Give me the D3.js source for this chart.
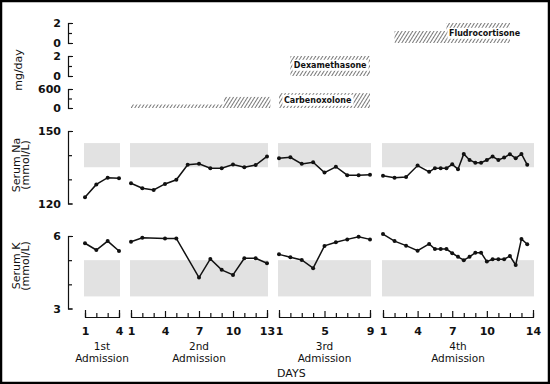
<!DOCTYPE html>
<html>
<head>
<meta charset="utf-8">
<script src="https://cdn.jsdelivr.net/npm/d3@7"></script>
<style>
body { margin: 0; background: #fff; }
text { font-family: "DejaVu Sans", sans-serif; fill: #111; }
.num text { font-weight: bold; font-size: 11px; }
.axis path, .axis line { stroke: #111; stroke-width: 1.2; }
</style>
</head>
<body>
<div id="chart"></div>
<script>
// Data ------------------------------------------------------------------------------------------------------
const admissionNames = ["1st", "2nd", "3rd", "4th"];
const admissionLengths = [4, 13, 9, 14];
const dayLabels = [[1, 4], [1, 4, 7, 10, 13], [1, 5, 9], [1, 4, 7, 10, 14]];

const halfDays4 = [1, 2, 3, 4, 5, 5.5, 6, 6.5, 7, 7.5, 8, 8.5, 9, 9.5, 10, 10.5, 11, 11.5, 12, 12.5, 13, 13.5];

const naDays = [
  [1, 2, 3, 4],
  [1, 2, 3, 4, 5, 6, 7, 8, 9, 10, 11, 12, 13],
  [1, 2, 3, 4, 5, 6, 7, 8, 9],
  halfDays4
];
const naValues = [
  [122.6, 127.9, 130.7, 130.4],
  [128.4, 126.3, 125.6, 128.1, 129.8, 136, 136.4, 134.6, 134.6, 136.1, 135, 135.9, 139.5],
  [138.7, 139.1, 136.4, 137.1, 132.8, 135.2, 131.7, 131.7, 131.9],
  [131.5, 130.7, 131, 135.7, 133.1, 134.6, 134.6, 134.6, 136.2, 134.2, 140.5, 138, 136.9, 136.9, 138, 139.4, 138, 139, 140.4, 138.7, 140.5, 136]
];

const kDays = [
  [1, 2, 3, 4],
  [1, 2, 4, 5, 7, 8, 9, 10, 11, 12, 13],
  [1, 2, 3, 4, 5, 6, 7, 8, 9],
  halfDays4
];
const kValues = [
  [5.7, 5.42, 5.79, 5.38],
  [5.76, 5.93, 5.9, 5.9, 4.28, 5.05, 4.6, 4.39, 5.08, 5.08, 4.87],
  [5.24, 5.12, 5.01, 4.67, 5.59, 5.74, 5.86, 5.97, 5.86],
  [6.08, 5.79, 5.6, 5.39, 5.67, 5.46, 5.46, 5.46, 5.29, 5.14, 5.0, 5.14, 5.31, 5.31, 4.94, 5.04, 5.04, 5.04, 5.17, 4.8, 5.88, 5.66]
];

const naNormal = [135, 145];
const kNormal = [3.5, 5];

// drug doses: [admission, from day, to day, mg/day]
const drugNames = ["Fludrocortisone", "Dexamethasone", "Carbenoxolone"];
const drugMax = [2, 2, 600];
const fludroDoses = [[3, 2, 6.5, 1.2], [3, 6.5, 12, 2]];
const dexaDoses = [[2, 2, 9, 2]];
const carbDoses = [[1, 1, 9.2, 110], [1, 9.2, 13.3, 350], [2, 1, 9, 470]];

// Graph Dimensions ------------------------------------------------------------------------------------------
const width = 550, height = 384;
const axisX = 68;
const xRanges = [[85, 119], [131, 267], [279, 370], [383, 533]];

const svg = d3.select("#chart").append("svg")
  .attr("width", width)
  .attr("height", height);

svg.append("rect")
  .attr("x", 1).attr("y", 1)
  .attr("width", width - 2).attr("height", height - 2)
  .attr("fill", "#fff").attr("stroke", "#000").attr("stroke-width", 2.5);

// hatch pattern for the drug bars
const hatch = svg.append("defs").append("pattern")
  .attr("id", "hatch")
  .attr("patternUnits", "userSpaceOnUse")
  .attr("width", 3).attr("height", 3)
  .attr("patternTransform", "rotate(32)");
hatch.append("line")
  .attr("x1", 0.5).attr("y1", 0).attr("x2", 0.5).attr("y2", 3)
  .attr("stroke", "#7a7a7a").attr("stroke-width", 1);

// Scales ----------------------------------------------------------------------------------------------------
const xScales = admissionLengths.map((n, i) => d3.scaleLinear().domain([1, n]).range(xRanges[i]));
const yNa = d3.scaleLinear().domain([120, 150]).range([203.5, 131]);
const yK = d3.scaleLinear().domain([3, 6]).range([308.5, 236]);
const yDrug = [
  d3.scaleLinear().domain([0, drugMax[0]]).range([43, 23]),
  d3.scaleLinear().domain([0, drugMax[1]]).range([76, 56]),
  d3.scaleLinear().domain([0, drugMax[2]]).range([108, 89])
];

// Normal range shading --------------------------------------------------------------------------------------
const shade = (yScale, range) => {
  xScales.forEach(x => {
    svg.append("rect")
      .attr("x", x.range()[0] - 1)
      .attr("y", yScale(range[1]))
      .attr("width", x.range()[1] - x.range()[0] + 2)
      .attr("height", yScale(range[0]) - yScale(range[1]))
      .attr("fill", "#e2e2e2");
  });
};
shade(yNa, naNormal);
shade(yK, kNormal);

// Left axes -------------------------------------------------------------------------------------------------
const leftAxis = (scale, ticks, labels) => {
  svg.append("g")
    .attr("class", "axis num")
    .attr("transform", `translate(${axisX},0)`)
    .call(d3.axisLeft(scale).tickValues(ticks).tickSize(-4).tickSizeOuter(-5).tickPadding(7)
      .tickFormat(d => labels.includes(d) ? d : ""));
};
leftAxis(yDrug[0], [0, 1, 2], [0, 2]);
leftAxis(yDrug[1], [0, 1, 2], [0, 2]);
leftAxis(yDrug[2], [0, 300, 600], [0, 600]);
leftAxis(yNa, [120, 130, 140, 150], [120, 150]);
leftAxis(yK, [3, 4, 5, 6], [3, 6]);

// Axis titles
const title = (lines, x, y) => {
  const t = svg.append("text")
    .attr("transform", `translate(${x},${y}) rotate(-90)`)
    .attr("text-anchor", "middle")
    .style("font-size", "11px");
  lines.forEach((l, i) => t.append("tspan").attr("x", 0).attr("y", i * 8.5).text(l));
};
title(["mg/day"], 22, 70);
title(["Serum Na", "(mmol/L)"], 20, 165);
title(["Serum K", "(mmol/L)"], 20, 266);

// Drug bars -------------------------------------------------------------------------------------------------
const drawDoses = (doses, yScale) => {
  doses.forEach(([a, from, to, dose]) => {
    const x = xScales[a];
    svg.append("rect")
      .attr("x", x(from))
      .attr("y", yScale(dose))
      .attr("width", x(to) - x(from))
      .attr("height", yScale(0) - yScale(dose))
      .attr("fill", "url(#hatch)");
  });
};
drawDoses(fludroDoses, yDrug[0]);
drawDoses(dexaDoses, yDrug[1]);
drawDoses(carbDoses, yDrug[2]);

const drugLabel = (name, x, y) => {
  const t = svg.append("text")
    .attr("x", x).attr("y", y)
    .attr("text-anchor", "middle")
    .attr("dy", "0.35em")
    .style("font-size", "8px")
    .style("font-weight", "bold")
    .text(name);
  const b = t.node().getBBox();
  svg.insert("rect", () => t.node())
    .attr("x", b.x - 1.5).attr("y", b.y - 1)
    .attr("width", b.width + 3).attr("height", b.height + 2)
    .attr("fill", "#fff");
};
drugLabel(drugNames[0], xScales[3](9.8), 33);
drugLabel(drugNames[1], xScales[2](5.5), 65);
drugLabel(drugNames[2], xScales[2](4.4), 100);

// Data lines ------------------------------------------------------------------------------------------------
const drawSeries = (days, values, yScale) => {
  days.forEach((ds, i) => {
    const pts = ds.map((d, j) => [xScales[i](d), yScale(values[i][j])]);
    svg.append("path")
      .attr("d", d3.line()(pts))
      .attr("fill", "none")
      .attr("stroke", "#111")
      .attr("stroke-width", 1.5);
    svg.selectAll(null)
      .data(pts)
      .enter()
      .append("circle")
      .attr("cx", p => p[0])
      .attr("cy", p => p[1])
      .attr("r", 2)
      .attr("fill", "#111");
  });
};
drawSeries(naDays, naValues, yNa);
drawSeries(kDays, kValues, yK);

// X axes ----------------------------------------------------------------------------------------------------
xScales.forEach((x, i) => {
  const days = d3.range(1, admissionLengths[i] + 1);
  const g = svg.append("g")
    .attr("class", "axis num")
    .attr("transform", "translate(0,317)")
    .call(d3.axisBottom(x).tickValues(days).tickSize(-4).tickSizeOuter(-7).tickPadding(10)
      .tickFormat(d => dayLabels[i].includes(d) ? d : ""));
  g.selectAll(".tick line")
    .attr("y2", d => dayLabels[i].includes(d) && d !== 1 && d !== admissionLengths[i] ? -6 : -4);

  const cx = (x.range()[0] + x.range()[1]) / 2;
  svg.append("text")
    .attr("x", cx).attr("y", 350)
    .attr("text-anchor", "middle")
    .style("font-size", "10.5px")
    .text(admissionNames[i]);
  svg.append("text")
    .attr("x", cx).attr("y", 361.5)
    .attr("text-anchor", "middle")
    .style("font-size", "10.5px")
    .text("Admission");
});

svg.append("text")
  .attr("x", 277).attr("y", 376.5)
  .style("font-size", "11px")
  .text("DAYS");
</script>
</body>
</html>
